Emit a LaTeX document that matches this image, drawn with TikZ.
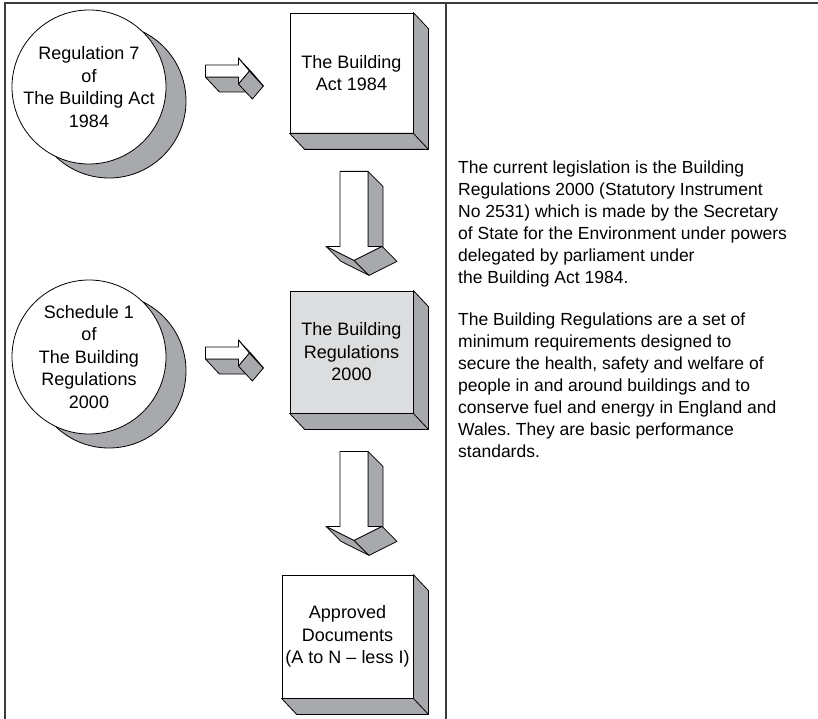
\documentclass[tikz,border=0pt]{standalone}
\usepackage{fontspec}
\setmainfont{Liberation Sans}
\usetikzlibrary{calc, positioning, shadows}
\definecolor{faceGray}{HTML}{DCDDDE}
\definecolor{sideGray}{HTML}{A7A9AC}
\definecolor{frameGray}{HTML}{3C3C3C}
\frenchspacing

\tikzset{
  lbl/.style={align=center, font=\fontsize{18}{22.5}\selectfont},
  rtext/.style={align=left, inner sep=0pt, anchor=north west, font=\fontsize{17.5}{22}\selectfont},
  regbox/.style={lbl, draw, fill=white, line width=0.8pt, inner sep=0pt, minimum width=123pt, minimum height=120pt},
  regcircle/.style={lbl, circle, draw, fill=white, line width=0.8pt, inner sep=0pt, minimum size=154pt,
    drop shadow={shadow xshift=20pt, shadow yshift=-14pt, fill=sideGray, draw=black, opacity=1}},
  side/.style={fill=sideGray, draw=black, line width=0.8pt, line join=round},
  pics/rightarrow/.style={code={
    \filldraw[side] (0,6) -- (33,6) -- (47,21) -- (14,21) -- cycle;
    \filldraw[side] (33,13) -- (44,0) -- (58,15) -- (47,28) -- cycle;
    \filldraw[side, fill=white] (33,-13) -- (44,0) -- (58,15) -- (47,2) -- cycle;
    \filldraw[side, fill=white] (0,-6) -- (33,-6) -- (33,-13) -- (44,0) -- (33,13) -- (33,6) -- (0,6) -- cycle;
  }},
  pics/downarrow/.style={code={
    \filldraw[side] (14,0) -- (29,15) -- (29,90) -- (14,75) -- cycle;
    \filldraw[side] (0,89) -- (-28,75) -- (-13,90) -- (15,104) -- cycle;
    \filldraw[side] (28,75) -- (0,89) -- (15,104) -- (43,90) -- cycle;
    \filldraw[side, fill=white] (-14,0) -- (14,0) -- (14,75) -- (28,75) -- (0,89) -- (-28,75) -- (-14,75) -- cycle;
  }}
}

% grey bottom and right faces of a box node
\newcommand{\boxdepth}[1]{%
  \filldraw[side] (#1.north east) -- ++(15,16) -- ($(#1.south east)+(15,16)$) -- ($(#1.south west)+(15,16)$) -- (#1.south west) -- (#1.south east) -- cycle;
  \draw[line width=0.8pt] (#1.south east) -- ++(15,16);
}

\begin{document}
\begin{tikzpicture}[x=1pt, y=-1pt]
  \useasboundingbox (0,0) rectangle (818,719);
  \draw[frameGray, line width=1.6pt] (818,3) -- (5,3) -- (5,719);
  \draw[frameGray, line width=1.6pt] (446,3) -- (446,719);

  % left column
  \node[regcircle] (reg7) at (89,87) {Regulation 7\\of\\The Building Act\\1984};
  \node[regcircle] (sched1) at (89,357) {Schedule 1\\of\\The Building\\Regulations\\2000};

  \node[regbox] (act) at (351.5,73) {The Building\\Act 1984};
  \node[regbox, fill=faceGray, minimum height=122pt] (regs) at (351.5,352) {The Building\\Regulations\\2000};
  \node[regbox, minimum width=131pt, minimum height=123pt] (appdocs) at (347.5,636.5) {Approved\\Documents\\(A to N – less I)};
  \boxdepth{act}
  \boxdepth{regs}
  \boxdepth{appdocs}

  \pic at ($(reg7.east)+(39,-16)$) {rightarrow};
  \pic at ($(sched1.east)+(39,-4)$) {rightarrow};
  \pic at ($(act.south)+(2.5,38)$) {downarrow};
  \pic at ($(regs.south)+(2.5,38)$) {downarrow};

  % right column
  \node[rtext] (legis) at (458,161) {The current legislation is the Building\\
    Regulations 2000 (Statutory Instrument\\
    No 2531) which is made by the Secretary\\
    of State for the Environment under powers\\
    delegated by parliament under\\
    the Building Act 1984.};
  \node[rtext] (purpose) at (458,313) {The Building Regulations are a set of\\
    minimum requirements designed to\\
    secure the health, safety and welfare of\\
    people in and around buildings and to\\
    conserve fuel and energy in England and\\
    Wales. They are basic performance\\
    standards.};
\end{tikzpicture}
\end{document}
